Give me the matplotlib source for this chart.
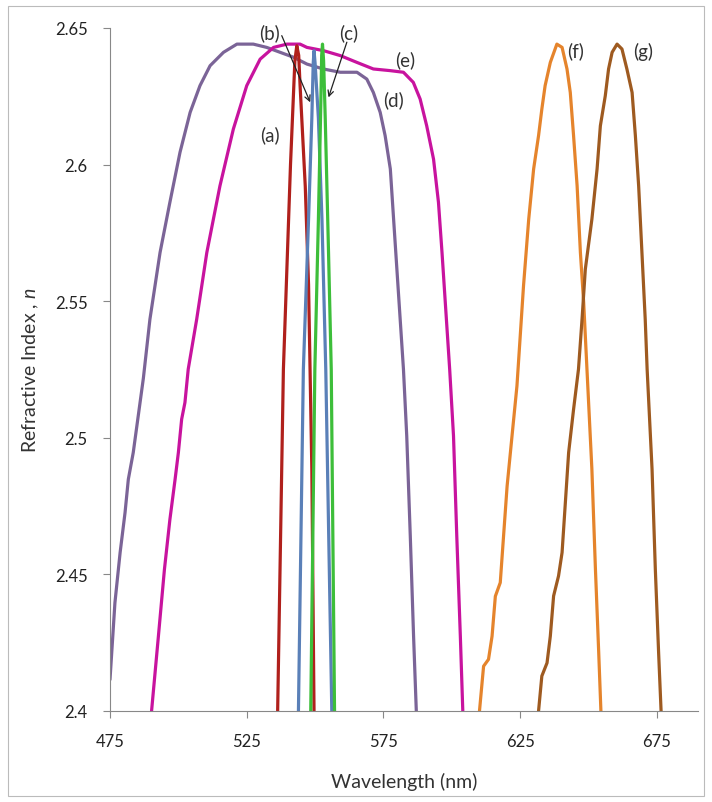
import matplotlib.pyplot as plt
from matplotlib.patches import Rectangle

plt.rcParams['font.family'] = ['Lato', 'DejaVu Sans']
plt.rcParams['mathtext.fontset'] = 'custom'
plt.rcParams['mathtext.it'] = 'Lato:italic'
plt.rcParams['mathtext.rm'] = 'Lato'

# (a) red narrow peak
a_wl = [536.3, 538.4, 541.0, 542.6, 543.3, 544.0, 544.5, 546.4, 547.6, 548.8, 549.6]
a_n  = [2.400, 2.525, 2.600, 2.638, 2.6435, 2.640, 2.629, 2.592, 2.556, 2.4885, 2.400]

# (b) blue narrow peak
b_wl = [543.9, 545.7, 547.6, 548.8, 549.3, 549.6, 550.0, 551.2, 552.5, 553.9, 556.1]
b_n  = [2.400, 2.525, 2.580, 2.617, 2.637, 2.6417, 2.637, 2.617, 2.580, 2.525, 2.400]

# (c) green narrow peak
c_wl = [548.4, 549.9, 551.2, 552.1, 552.4, 552.7, 553.1, 553.7, 554.9, 555.9, 557.1]
c_n  = [2.400, 2.525, 2.580, 2.623, 2.640, 2.6441, 2.638, 2.617, 2.568, 2.525, 2.400]

# (d) purple broad band
d_wl = [475.0, 476.8, 478.7, 480.5, 481.7, 483.5, 487.2, 489.6, 493.3, 496.9,
        500.6, 504.3, 507.9, 511.6, 516.5, 521.4, 527.4, 532.3, 537.2, 542.1,
        547.0, 553.0, 559.2, 565.3, 568.9, 571.3, 573.8, 575.6, 577.5, 578.7,
        579.9, 581.1, 582.3, 583.5, 584.8, 586.0, 587.0]
d_n  = [2.4115, 2.4396, 2.458, 2.4726, 2.4848, 2.4946, 2.5218, 2.5434, 2.5678, 2.5862,
        2.6045, 2.6191, 2.6289, 2.6362, 2.6411, 2.6441, 2.6441, 2.6429, 2.6411, 2.6393,
        2.6368, 2.635, 2.6338, 2.6338, 2.6313, 2.6264, 2.6191, 2.6106, 2.5984, 2.580,
        2.5617, 2.5434, 2.5251, 2.5007, 2.464, 2.4274, 2.400]

# (e) magenta broad band
e_wl = [490.2, 492.7, 494.9, 496.9, 498.8, 500.0, 501.2, 502.4, 503.6, 506.7,
        510.4, 515.2, 520.1, 525.0, 529.9, 534.8, 539.7, 544.5, 547.0, 553.1,
        559.2, 565.3, 571.3, 577.4, 582.3, 585.9, 588.4, 590.8, 593.3, 595.1,
        596.4, 597.6, 599.2, 600.6, 601.8, 603.1, 604.0]
e_n  = [2.400, 2.4274, 2.4518, 2.4701, 2.4848, 2.4946, 2.5068, 2.5129, 2.5251, 2.5434,
        2.5678, 2.5922, 2.613, 2.6289, 2.6386, 2.6429, 2.6441, 2.6441, 2.6429, 2.6417,
        2.6399, 2.6374, 2.635, 2.6344, 2.6338, 2.6301, 2.624, 2.6142, 2.602, 2.5862,
        2.5678, 2.5495, 2.5251, 2.5007, 2.464, 2.4274, 2.400]

# (f) orange peak
f_wl = [610.1, 611.6, 613.4, 614.7, 615.9, 617.7, 618.9, 620.2, 622.0, 623.8,
        626.2, 628.1, 629.9, 631.7, 632.9, 634.1, 636.0, 638.4, 640.3, 642.1,
        643.3, 644.5, 645.8, 647.0, 648.2, 649.4, 651.2, 652.5, 653.7, 654.5]
f_n  = [2.400, 2.4164, 2.4189, 2.4274, 2.442, 2.447, 2.464, 2.4823, 2.5007, 2.519,
        2.5556, 2.580, 2.5984, 2.6106, 2.6203, 2.6289, 2.6374, 2.6441, 2.6429, 2.635,
        2.6264, 2.6106, 2.5922, 2.5678, 2.5495, 2.5251, 2.4885, 2.4518, 2.4213, 2.400]

# (g) brown peak
g_wl = [631.7, 632.9, 634.8, 636.0, 637.2, 639.0, 640.3, 641.5, 642.7, 644.5,
        646.3, 647.6, 648.8, 651.2, 653.1, 654.3, 656.1, 657.3, 658.6, 660.4,
        662.2, 664.0, 665.9, 667.1, 668.3, 669.5, 670.7, 671.4, 673.2, 674.4,
        675.6, 676.5]
g_n  = [2.400, 2.4128, 2.4176, 2.4274, 2.4421, 2.4494, 2.458, 2.4763, 2.4946, 2.5104,
        2.5251, 2.5434, 2.5617, 2.580, 2.5984, 2.6142, 2.6252, 2.635, 2.6411, 2.6441,
        2.6423, 2.635, 2.6264, 2.6106, 2.5922, 2.5678, 2.5434, 2.5251, 2.4885, 2.4518,
        2.4213, 2.400]

fig = plt.figure(figsize=(7.12, 8.03), dpi=100)
ax = fig.add_axes([110/712, 1-712/803, 588/712, (712-29)/803])

lw = 2.3
style = dict(lw=lw, solid_joinstyle='round', solid_capstyle='round')
ax.plot(d_wl, d_n, color='#7B6497', **style)
ax.plot(e_wl, e_n, color='#C8139E', **style)
ax.plot(a_wl, a_n, color='#B0201C', **style)
ax.plot(b_wl, b_n, color='#5A80B8', **style)
ax.plot(c_wl, c_n, color='#3DBE3A', **style)
ax.plot(f_wl, f_n, color='#E5842C', **style)
ax.plot(g_wl, g_n, color='#9E5A20', **style)

ax.set_xlim(475, 690)
ax.set_ylim(2.4, 2.65)
ax.set_xticks([475, 525, 575, 625, 675])
ax.set_yticks([2.4, 2.45, 2.5, 2.55, 2.6, 2.65])
ax.set_yticklabels(['2.4', '2.45', '2.5', '2.55', '2.6', '2.65'])
for s in ['top', 'right']:
    ax.spines[s].set_visible(False)
for s in ['left', 'bottom']:
    ax.spines[s].set_color('#888888')
ax.tick_params(axis='both', direction='out', length=5, color='#888888',
               labelsize=12, labelcolor='#222222')
ax.tick_params(axis='y', pad=11)
ax.tick_params(axis='x', pad=11)

ax.set_xlabel('Wavelength (nm)', fontsize=14, color='#333333', labelpad=16)
ax.set_ylabel('Refractive Index , $n$', fontsize=14, color='#333333', labelpad=10)

tk = dict(fontsize=13.5, color='#333333', ha='center', va='center')
ax.text(533.5, 2.611, '(a)', **tk)
ax.text(533.5, 2.6484, '(b)', **tk)
ax.text(562.2, 2.6484, '(c)', **tk)
ax.text(578.7, 2.624, '(d)', **tk)
ax.text(582.9, 2.6386, '(e)', **tk)
ax.text(645.1, 2.6417, '(f)', **tk)
ax.text(669.9, 2.6417, '(g)', **tk)

arr = dict(arrowstyle='->', color='#222222', lw=0.9, shrinkA=0, shrinkB=0)
ax.annotate('', xy=(548.2, 2.6228), xytext=(537.8, 2.6472), arrowprops=arr)
ax.annotate('', xy=(554.9, 2.6246), xytext=(561.6, 2.6448), arrowprops=arr)

fig.patches.append(Rectangle((8/712, 6/803), 696/712, 790/803, transform=fig.transFigure,
                             fill=False, edgecolor='#BBBBBB', lw=0.8))

fig.savefig('out.png', dpi=100)
